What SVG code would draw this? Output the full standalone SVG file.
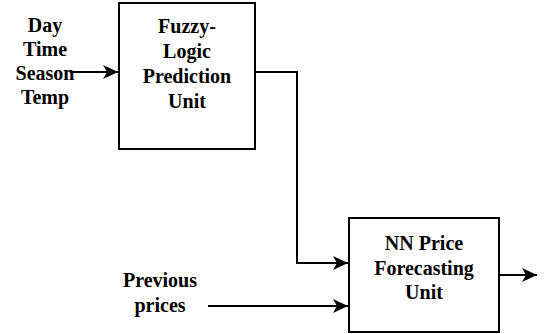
<svg xmlns="http://www.w3.org/2000/svg" width="544" height="334" viewBox="0 0 544 334">
<style>
text{font-family:"Liberation Serif","Times New Roman",serif;font-weight:bold;font-size:20px;fill:#000;text-anchor:middle}
.box{fill:#fff;stroke:#000;stroke-width:2}
.ln{fill:none;stroke:#000;stroke-width:2}
</style>
<defs>
<marker id="ah" markerUnits="userSpaceOnUse" markerWidth="16" markerHeight="14" refX="15" refY="7" orient="auto">
<path d="M0,0 L15,7 L0,14 L4,7 Z" fill="#000"/>
</marker>
</defs>
<g id="inputs-label">
<text x="45" y="32">Day</text>
<text x="45" y="56">Time</text>
<text x="45" y="80">Season</text>
<text x="45" y="104">Temp</text>
</g>
<g id="previous-label">
<text x="160" y="287">Previous</text>
<text x="160" y="312">prices</text>
</g>
<g id="connectors">
<line class="ln" x1="70" y1="72" x2="118" y2="72" marker-end="url(#ah)"/>
<polyline class="ln" points="256,72 297,72 297,263 348,263" marker-end="url(#ah)"/>
<line class="ln" x1="208" y1="306" x2="348" y2="306" marker-end="url(#ah)"/>
<line class="ln" x1="500" y1="275" x2="537" y2="275" marker-end="url(#ah)"/>
</g>
<g id="fuzzy">
<rect class="box" x="119" y="3" width="136" height="146"/>
<text x="187" y="33">Fuzzy-</text>
<text x="187" y="58">Logic</text>
<text x="187" y="83">Prediction</text>
<text x="187" y="108">Unit</text>
</g>
<g id="nn">
<rect class="box" x="349" y="218" width="150" height="114"/>
<text x="424" y="250">NN Price</text>
<text x="424" y="275">Forecasting</text>
<text x="424" y="299">Unit</text>
</g>
</svg>
